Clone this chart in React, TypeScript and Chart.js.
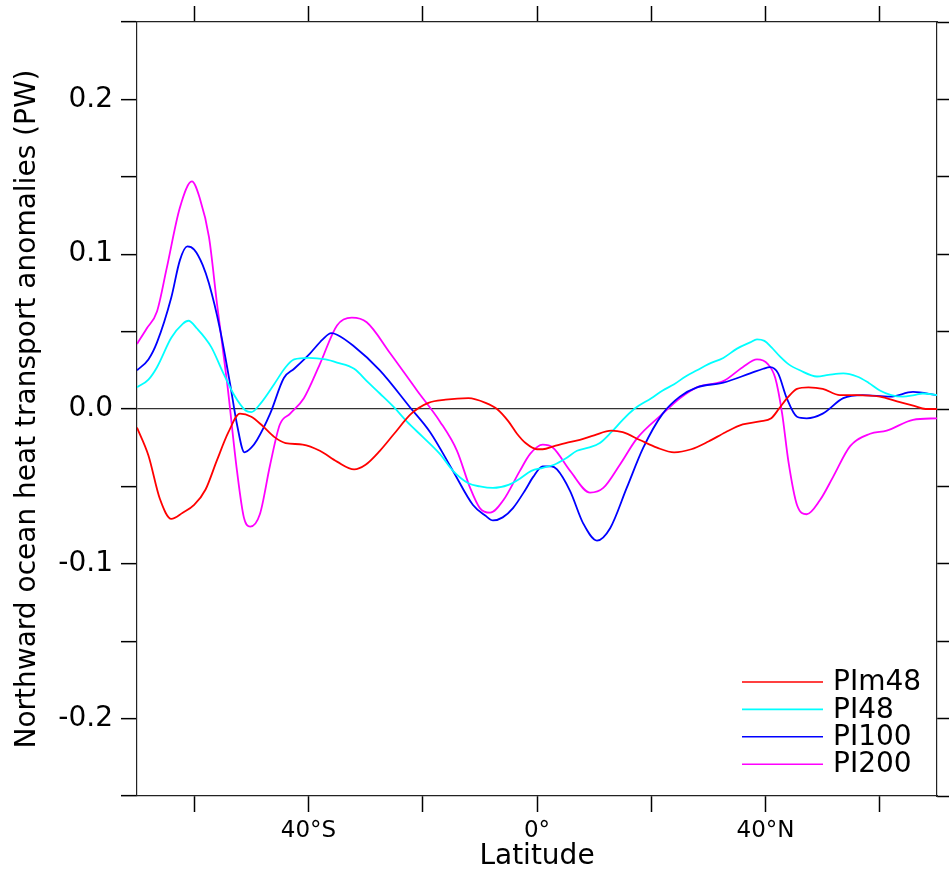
import React, { useEffect, useRef } from 'react';
import { Chart, registerables } from 'chart.js';

Chart.register(...registerables);

const FONT = "'DejaVu Sans', sans-serif";

// Axis ticks
const xTickValues = [-60, -40, -20, 0, 20, 40, 60];
const xTickText = ['', '40°S', '', '0°', '', '40°N', ''];
const yTickValues = [-0.25, -0.2, -0.15, -0.1, -0.05, 0, 0.05, 0.1, 0.15, 0.2, 0.25];
const yTickText = ['', '-0.2', '', '-0.1', '', '0.0', '', '0.1', '', '0.2', ''];

// Series names / colours
const seriesNames = ['PIm48', 'PI48', 'PI100', 'PI200'];
const seriesColors = ['#ff0000', '#00ffff', '#0000ff', '#ff00ff'];

// PIm48
const pim48Lat = [-70, -68, -66, -64, -62, -60, -58, -56, -54, -52, -50, -48, -46, -44, -41, -38, -35, -32, -30, -27.5, -25, -22, -19, -16, -12, -9, -7, -5, -3.5, -2, 0, 1, 3, 5, 7.5, 10, 13, 15, 18, 21, 24, 27, 30, 33, 36, 39, 41, 42.5, 44, 45.5, 47.5, 50, 53, 56, 60, 63, 66, 68, 70];
const pim48Val = [-0.012, -0.030, -0.058, -0.071, -0.067, -0.062, -0.052, -0.033, -0.015, -0.003, -0.005, -0.011, -0.018, -0.022, -0.023, -0.027, -0.034, -0.039, -0.036, -0.027, -0.016, -0.003, 0.004, 0.006, 0.007, 0.004, 0.000, -0.008, -0.016, -0.022, -0.026, -0.026, -0.024, -0.022, -0.020, -0.017, -0.014, -0.015, -0.020, -0.025, -0.028, -0.026, -0.021, -0.015, -0.010, -0.008, -0.006, 0.001, 0.008, 0.013, 0.014, 0.013, 0.009, 0.009, 0.008, 0.005, 0.002, 0.000, 0.000];

// PI48
const pi48Lat = [-70, -68, -66.5, -64, -62, -61, -59.5, -57, -55, -53, -51, -50, -48.5, -46, -44, -42.5, -40, -37, -35, -32, -29.5, -27.5, -25, -22.8, -20, -17, -14.7, -12, -10, -7.7, -5, -3, -1, 1, 3, 5, 7, 9, 11, 13, 15, 17, 20, 22, 24, 26, 28, 30, 32.6, 35, 37.3, 38.5, 39.8, 41, 42.5, 44, 46, 49, 51, 53.6, 56, 58, 60, 62, 64, 66, 67.5, 70];
const pi48Val = [0.014, 0.019, 0.027, 0.046, 0.055, 0.057, 0.052, 0.040, 0.024, 0.009, -0.001, -0.002, 0.003, 0.016, 0.027, 0.032, 0.033, 0.032, 0.030, 0.026, 0.017, 0.010, 0.001, -0.008, -0.018, -0.029, -0.040, -0.048, -0.050, -0.051, -0.049, -0.045, -0.040, -0.038, -0.036, -0.032, -0.027, -0.025, -0.022, -0.015, -0.007, 0.000, 0.007, 0.012, 0.016, 0.021, 0.025, 0.029, 0.033, 0.039, 0.043, 0.045, 0.044, 0.040, 0.034, 0.029, 0.025, 0.021, 0.022, 0.023, 0.021, 0.017, 0.012, 0.009, 0.008, 0.009, 0.010, 0.009];

// PI100
const pi100Lat = [-70, -68, -66.5, -64, -62.5, -61.2, -60, -58.5, -57.4, -55.5, -53.7, -52.5, -51.2, -50, -49, -46.7, -44.3, -42.5, -39.7, -37.5, -36, -35, -32.2, -27.5, -22.2, -18.7, -14.7, -11.2, -9, -7.7, -6, -4.2, -2, -0.7, 1, 2.5, 3.5, 5.8, 8.1, 10.5, 12.8, 15.7, 18.6, 22, 25, 28, 32.6, 37.3, 39.6, 40.8, 42.2, 43.7, 45.5, 47.2, 50, 53.6, 57, 61.8, 65.8, 70];
const pi100Val = [0.025, 0.032, 0.043, 0.072, 0.096, 0.105, 0.103, 0.093, 0.081, 0.052, 0.016, -0.010, -0.028, -0.025, -0.020, -0.003, 0.020, 0.026, 0.036, 0.045, 0.049, 0.048, 0.041, 0.025, 0.001, -0.015, -0.040, -0.062, -0.069, -0.072, -0.070, -0.064, -0.052, -0.044, -0.037, -0.037, -0.039, -0.053, -0.074, -0.085, -0.077, -0.051, -0.025, -0.003, 0.008, 0.014, 0.017, 0.023, 0.026, 0.027, 0.023, 0.007, -0.005, -0.006, -0.003, 0.007, 0.009, 0.008, 0.011, 0.009];

// PI200
const pi200Lat = [-70, -68.3, -66.5, -64.8, -62.5, -60.4, -59, -57.4, -56, -54.2, -52.5, -51.3, -50.2, -48.5, -46.7, -45, -43.2, -40.8, -38, -35, -32.4, -29.8, -25.7, -21, -17, -14, -11.7, -10, -8.2, -5.9, -3, -1.2, 1, 2.8, 5.8, 9.3, 11.6, 14.5, 17.5, 22, 25, 28, 32.6, 36, 38.5, 40.4, 41.7, 42.9, 44, 45.5, 47.2, 49.5, 51.8, 54.8, 58.3, 61.2, 65.8, 70];
const pi200Val = [0.042, 0.052, 0.063, 0.091, 0.130, 0.147, 0.136, 0.111, 0.068, 0.016, -0.040, -0.070, -0.076, -0.068, -0.036, -0.010, -0.003, 0.007, 0.029, 0.054, 0.059, 0.056, 0.036, 0.012, -0.008, -0.027, -0.051, -0.064, -0.067, -0.059, -0.040, -0.029, -0.023, -0.025, -0.040, -0.054, -0.051, -0.036, -0.019, -0.003, 0.007, 0.014, 0.018, 0.027, 0.032, 0.029, 0.020, -0.003, -0.034, -0.062, -0.068, -0.059, -0.044, -0.024, -0.016, -0.014, -0.007, -0.006];

const seriesLats = [pim48Lat, pi48Lat, pi100Lat, pi200Lat];
const seriesVals = [pim48Val, pi48Val, pi100Val, pi200Val];

const insideLegend = {
  id: 'insideLegend',
  afterDraw(chart: any) {
    const { ctx, chartArea } = chart;
    ctx.save();
    ctx.font = `28px ${FONT}`;
    ctx.textBaseline = 'middle';
    ctx.textAlign = 'left';
    ctx.fillStyle = '#000';
    chart.data.datasets.forEach((ds: any, i: number) => {
      const y = chartArea.bottom - 114 + i * 27.4;
      ctx.strokeStyle = ds.borderColor;
      ctx.lineWidth = 1.6;
      ctx.beginPath();
      ctx.moveTo(chartArea.right - 195, y);
      ctx.lineTo(chartArea.right - 114, y);
      ctx.stroke();
      ctx.fillText(ds.label, chartArea.right - 104, y + 1);
    });
    ctx.restore();
  },
};

export default function App() {
  const ref = useRef<HTMLCanvasElement>(null);

  useEffect(() => {
    const canvas = ref.current;
    if (!canvas) return;
    const datasets = seriesNames.map((name, i) => ({
      label: name,
      data: seriesLats[i].map((x, j) => ({ x, y: seriesVals[i][j] })),
      borderColor: seriesColors[i],
      backgroundColor: seriesColors[i],
      borderWidth: 1.8,
      pointRadius: 0,
      cubicInterpolationMode: 'monotone' as const,
      fill: false,
      xAxisID: 'x',
      yAxisID: 'y',
    }));

    const tickGrid = {
      drawOnChartArea: false,
      drawTicks: true,
      tickLength: 16,
      tickColor: '#000',
      tickWidth: 1.5,
    };
    const border = { display: true, color: '#222', width: 1.2 };

    const chart = new Chart(canvas, {
      type: 'line',
      data: { datasets },
      plugins: [insideLegend],
      options: {
        responsive: false,
        animation: false,
        devicePixelRatio: 1,
        layout: { padding: 0 },
        plugins: { legend: { display: false }, tooltip: { enabled: false } },
        scales: {
          x: {
            type: 'linear',
            position: 'bottom',
            min: -70,
            max: 70,
            afterBuildTicks: (s: any) => {
              s.ticks = xTickValues.map((v) => ({ value: v }));
            },
            afterFit: (s: any) => {
              s.height = 78;
              s.paddingLeft = 0;
              s.paddingRight = 0;
            },
            ticks: {
              autoSkip: false,
              maxRotation: 0,
              padding: 5,
              color: '#000',
              font: { family: FONT, size: 23 },
              callback: (_v: any, i: number) => xTickText[i],
            },
            grid: tickGrid,
            border,
            title: {
              display: true,
              text: 'Latitude',
              color: '#000',
              font: { family: FONT, size: 28 },
              padding: 0,
            },
          },
          x2: {
            type: 'linear',
            position: 'top',
            min: -70,
            max: 70,
            afterBuildTicks: (s: any) => {
              s.ticks = xTickValues.map((v) => ({ value: v }));
            },
            afterFit: (s: any) => {
              s.height = 22;
              s.paddingLeft = 0;
              s.paddingRight = 0;
            },
            ticks: { autoSkip: false, maxRotation: 0, callback: () => '' },
            grid: tickGrid,
            border,
          },
          y: {
            type: 'linear',
            position: 'left',
            min: -0.25,
            max: 0.25,
            afterBuildTicks: (s: any) => {
              s.ticks = yTickValues.map((v) => ({ value: v }));
            },
            afterFit: (s: any) => {
              s.width = 137;
              s.paddingTop = 0;
              s.paddingBottom = 0;
            },
            ticks: {
              autoSkip: false,
              padding: 8,
              color: '#000',
              font: { family: FONT, size: 28 },
              callback: (_v: any, i: number) => yTickText[i],
            },
            grid: {
              drawOnChartArea: true,
              drawTicks: true,
              tickLength: 16,
              tickColor: '#000',
              tickWidth: 1.5,
              lineWidth: 1.3,
              color: (c: any) => (c.tick && c.tick.value === 0 ? '#333' : 'rgba(0,0,0,0)'),
            },
            border,
            title: {
              display: true,
              text: 'Northward ocean heat transport anomalies (PW)',
              color: '#000',
              font: { family: FONT, size: 28 },
              padding: { top: 11, bottom: 0 },
            },
          },
          y2: {
            type: 'linear',
            position: 'right',
            min: -0.25,
            max: 0.25,
            afterBuildTicks: (s: any) => {
              s.ticks = yTickValues.map((v) => ({ value: v }));
            },
            afterFit: (s: any) => {
              s.width = 12;
              s.paddingTop = 0;
              s.paddingBottom = 0;
            },
            ticks: { autoSkip: false, callback: () => '' },
            grid: tickGrid,
            border,
          },
        },
      } as any,
    });
    return () => chart.destroy();
  }, []);

  return (
    <div style={{ position: 'absolute', left: 0, top: 0, width: 949, height: 874, background: '#fff' }}>
      <canvas ref={ref} width={949} height={874} style={{ display: 'block', width: 949, height: 874 }} />
    </div>
  );
}
